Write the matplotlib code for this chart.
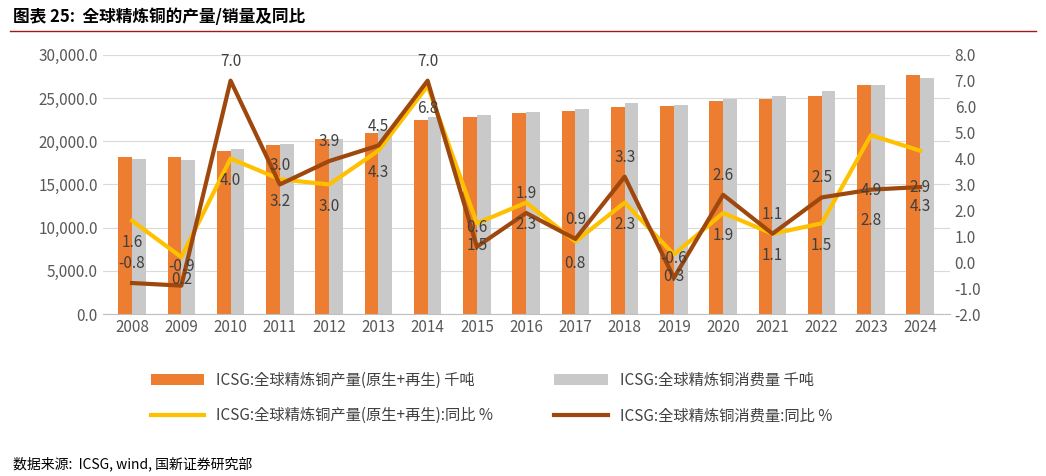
import matplotlib
matplotlib.use("Agg")
import matplotlib.pyplot as plt
import numpy as np
plt.rcParams['font.family'] = ['Noto Sans CJK SC', 'Noto Sans CJK JP', 'Noto Sans CJK TC', 'DejaVu Sans']

years = [str(y) for y in range(2008, 2025)]
prod = [18200,18200,18900,19600,20200,21000,22500,22800,23300,23500,24000,24100,24600,24900,25200,26500,27600]
cons = [18000,17800,19100,19700,20300,21300,22800,23000,23400,23700,24400,24200,24900,25200,25800,26500,27300]
prod_yoy = [1.6,0.2,4.0,3.2,3.0,4.3,6.8,1.5,2.3,0.8,2.3,0.3,1.9,1.1,1.5,4.9,4.3]
cons_yoy = [-0.8,-0.9,7.0,3.0,3.9,4.5,7.0,0.6,1.9,0.9,3.3,-0.6,2.6,1.1,2.5,2.8,2.9]

fig = plt.figure(figsize=(10.46,4.76), dpi=100)
ax = fig.add_axes([0.098, 0.34, 0.81, 0.545])
x = np.arange(len(years))
w = 0.28
b1 = ax.bar(x-w/2, prod, w, color='#ED7D31', label='ICSG:全球精炼铜产量(原生+再生) 千吨')
b2 = ax.bar(x+w/2, cons, w, color='#C9C9C9', label='ICSG:全球精炼铜消费量 千吨')
ax.set_ylim(0,30000)
ax.set_yticks(range(0,30001,5000))
ax.set_yticklabels([f"{v:,.1f}" for v in range(0,30001,5000)])
ax.set_xlim(-0.6, len(years)-0.4)
ax.set_xticks(x); ax.set_xticklabels(years)
ax.grid(axis='y', color='#D9D9D9', lw=0.8)
ax.set_axisbelow(True)
for s in ['top','right','left']: ax.spines[s].set_visible(False)
ax.spines['bottom'].set_color('#BFBFBF')
ax.tick_params(length=0, labelsize=11, colors='#595959')

ax2 = ax.twinx()
l1, = ax2.plot(x, prod_yoy, color='#FFC000', lw=3, label='ICSG:全球精炼铜产量(原生+再生):同比 %')
l2, = ax2.plot(x, cons_yoy, color='#9E480E', lw=3, label='ICSG:全球精炼铜消费量:同比 %')
ax2.set_ylim(-2,8)
ax2.set_yticks(range(-2,9))
ax2.set_yticklabels([f"{v:.1f}" for v in range(-2,9)])
for s in ax2.spines.values(): s.set_visible(False)
ax2.tick_params(length=0, labelsize=11, colors='#595959')
n = len(years)
for i in x:
    py = -40 if i >= n-2 else -16
    cy = {n-2: -22, n-1: 0}.get(i, 14)
    ax2.annotate(f"{prod_yoy[i]:.1f}", (i, prod_yoy[i]), xytext=(0,py), textcoords='offset points', ha='center', va='center', fontsize=11, color='#404040')
    ax2.annotate(f"{cons_yoy[i]:.1f}", (i, cons_yoy[i]), xytext=(0,cy), textcoords='offset points', ha='center', va='center', fontsize=11, color='#404040')

fig.legend([b1, l1, b2, l2], [b1.get_label(), l1.get_label(), b2.get_label(), l2.get_label()],
           loc='lower center', bbox_to_anchor=(0.47,0.08), ncol=2, frameon=False, fontsize=11,
           columnspacing=4, handlelength=3.5, labelspacing=1.2, labelcolor='#404040')
fig.text(0.012, 0.965, '图表 25:  全球精炼铜的产量/销量及同比', fontsize=12, fontweight='bold', style='italic', va='center')
fig.add_artist(plt.Line2D([0.01,0.99],[0.935,0.935], color='#9E1B1B', lw=1))
fig.text(0.012, 0.025, '数据来源:  ICSG, wind, 国新证券研究部', fontsize=10, va='center')
fig.savefig('out.png', dpi=100)
